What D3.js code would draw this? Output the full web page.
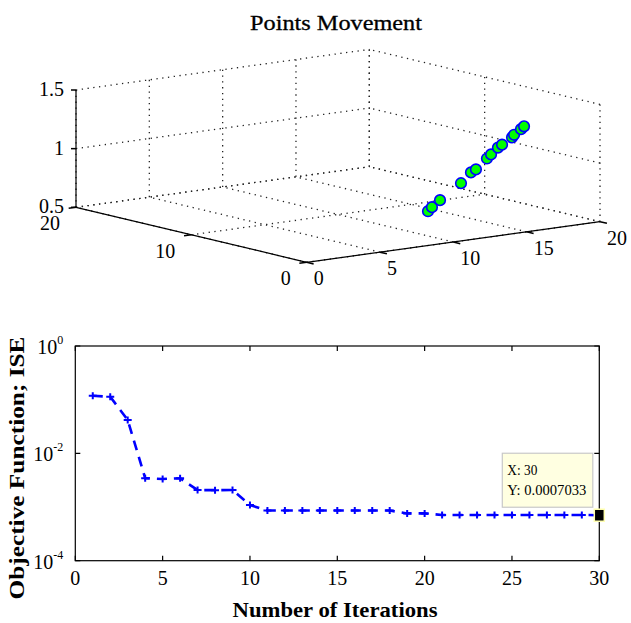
<!DOCTYPE html>
<html>
<head>
<meta charset="utf-8">
<script src="https://cdn.jsdelivr.net/npm/d3@7/dist/d3.min.js"></script>
<style>
	body { margin: 0; background: #fff; }
	text { font-family: "Liberation Serif", "Times New Roman", serif; fill: #000; }
</style>
</head>
<body>
<div id="root"></div>
<script>
// ---- top panel: points movement (3D view) ----
const xTicks3d = [0, 5, 10, 15, 20];
const yTicks3d = [0, 10, 20];
const zTicks3d = [0.5, 1, 1.5];
const zTickLabels = ["0.5", "1", "1.5"];

const pointsX = [12.99, 13.26, 13.81, 15.24, 15.92, 16.26, 17.01, 17.29, 17.76, 18.04, 18.72, 18.86, 19.33, 19.54];
const pointsY = [6, 6, 6, 6, 6, 6, 6, 6, 6, 6, 6, 6, 6, 6];
const pointsZ = [0.57, 0.60, 0.65, 0.77, 0.85, 0.87, 0.95, 0.98, 1.03, 1.05, 1.10, 1.12, 1.16, 1.18];

// ---- bottom panel: objective function ----
const iterations = [1, 2, 3, 4, 5, 6, 7, 8, 9, 10, 11, 12, 13, 14, 15, 16, 17, 18, 19, 20, 21, 22, 23, 24, 25, 26, 27, 28, 29, 30];
const objective = [0.118, 0.113, 0.042, 0.00345, 0.00333, 0.00343, 0.00207, 0.00206, 0.00208, 0.00109,
	0.00086, 0.00086, 0.00086, 0.00086, 0.00086, 0.00086, 0.00086, 0.00086,
	0.00076, 0.00076,
	0.000712, 0.000712, 0.000712, 0.000712, 0.000712, 0.000712, 0.000712, 0.000712, 0.000712,
	0.0007033];
const xTicks2d = [0, 5, 10, 15, 20, 25, 30];
const yTicks2d = [1, 1e-2, 1e-4];
const yTickExp = ["0", "-2", "-4"];

const svg = d3.select("#root")
	.append("svg")
		.attr("width", 631)
		.attr("height", 623);

// ================= 3D panel =================
const origin = [306.7, 262.3];      // x=0, y=0, z=0.5 corner
const xEdge = [293.3, -40.6];       // screen vector of the full x range
const yEdge = [-230.7, -55];        // screen vector of the full y range

const fx = d3.scaleLinear().domain([0, 20]).range([0, 1]);
const fy = d3.scaleLinear().domain([0, 20]).range([0, 1]);
const fz = d3.scaleLinear().domain([0.5, 1.5]).range([0, 117.3]);

const project = (x, y, z) => [
	origin[0] + fx(x) * xEdge[0] + fy(y) * yEdge[0],
	origin[1] + fx(x) * xEdge[1] + fy(y) * yEdge[1] - fz(z)
];

const top3d = svg.append("g");

const gridSegs = [];
// floor
xTicks3d.forEach(x => gridSegs.push([[x, 0, 0.5], [x, 20, 0.5]]));
yTicks3d.forEach(y => gridSegs.push([[0, y, 0.5], [20, y, 0.5]]));
// back wall y = 20
xTicks3d.forEach(x => gridSegs.push([[x, 20, 0.5], [x, 20, 1.5]]));
zTicks3d.forEach(z => gridSegs.push([[0, 20, z], [20, 20, z]]));
// back wall x = 20
yTicks3d.forEach(y => gridSegs.push([[20, y, 0.5], [20, y, 1.5]]));
zTicks3d.forEach(z => gridSegs.push([[20, 0, z], [20, 20, z]]));

top3d.selectAll(".grid3d")
	.data(gridSegs)
	.enter()
	.append("line")
		.attr("class", "grid3d")
		.attr("x1", d => project(...d[0])[0])
		.attr("y1", d => project(...d[0])[1])
		.attr("x2", d => project(...d[1])[0])
		.attr("y2", d => project(...d[1])[1])
		.attr("stroke", "#222")
		.attr("stroke-width", 1.3)
		.attr("stroke-dasharray", "1.3,4.5");

// solid axes
const axisSegs = [
	[[0, 20, 0.5], [0, 20, 1.5]],
	[[0, 20, 0.5], [0, 0, 0.5]],
	[[0, 0, 0.5], [20, 0, 0.5]]
];
top3d.selectAll(".axis3d")
	.data(axisSegs)
	.enter()
	.append("line")
		.attr("x1", d => project(...d[0])[0])
		.attr("y1", d => project(...d[0])[1])
		.attr("x2", d => project(...d[1])[0])
		.attr("y2", d => project(...d[1])[1])
		.attr("stroke", "#000")
		.attr("stroke-width", 1.2);

// ticks
const tickSegs = [];
zTicks3d.forEach(z => {
	const p = project(0, 20, z);
	tickSegs.push([p, [p[0] - 5, p[1]]]);
});
yTicks3d.forEach(y => {
	tickSegs.push([project(0, y, 0.5), project(-0.5, y, 0.5)]);
});
xTicks3d.forEach(x => {
	tickSegs.push([project(x, 0, 0.5), project(x, -0.6, 0.5)]);
});
top3d.selectAll(".tick3d")
	.data(tickSegs)
	.enter()
	.append("line")
		.attr("x1", d => d[0][0])
		.attr("y1", d => d[0][1])
		.attr("x2", d => d[1][0])
		.attr("y2", d => d[1][1])
		.attr("stroke", "#000")
		.attr("stroke-width", 1.5);

// tick labels
top3d.selectAll(".zlab")
	.data(zTicks3d)
	.enter()
	.append("text")
		.attr("x", d => project(0, 20, d)[0] - 12)
		.attr("y", d => project(0, 20, d)[1] + 6)
		.attr("text-anchor", "end")
		.attr("font-size", 20)
		.text((d, i) => zTickLabels[i]);

top3d.selectAll(".ylab")
	.data(yTicks3d)
	.enter()
	.append("text")
		.attr("x", d => project(0, d, 0.5)[0] - 16)
		.attr("y", d => project(0, d, 0.5)[1] + 23)
		.attr("text-anchor", "end")
		.attr("font-size", 20)
		.text(d => d);

top3d.selectAll(".xlab")
	.data(xTicks3d)
	.enter()
	.append("text")
		.attr("x", d => project(d, 0, 0.5)[0] + 7)
		.attr("y", d => project(d, 0, 0.5)[1] + 23)
		.attr("text-anchor", "start")
		.attr("font-size", 20)
		.text(d => d);

// points
top3d.selectAll(".pt")
	.data(pointsX.map((x, i) => project(x, pointsY[i], pointsZ[i])))
	.enter()
	.append("circle")
		.attr("cx", d => d[0])
		.attr("cy", d => d[1])
		.attr("r", 5.3)
		.attr("fill", "#00ff00")
		.attr("stroke", "#0000ff")
		.attr("stroke-width", 1.6);

svg.append("text")
	.attr("x", 336)
	.attr("y", 30)
	.attr("text-anchor", "middle")
	.attr("font-size", 21)
	.attr("textLength", 172)
	.attr("lengthAdjust", "spacingAndGlyphs")
	.attr("stroke", "#000")
	.attr("stroke-width", 0.3)
	.text("Points Movement");

// ================= 2D panel =================
const box = { left: 75.3, right: 599.3, top: 346, bottom: 560.7 };

const x = d3.scaleLinear().domain([0, 30]).range([box.left, box.right]);
const y = d3.scaleLog().domain([1e-4, 1]).range([box.bottom, box.top]);

const plot = svg.append("g");

plot.append("rect")
	.attr("x", box.left)
	.attr("y", box.top)
	.attr("width", box.right - box.left)
	.attr("height", box.bottom - box.top)
	.attr("fill", "none")
	.attr("stroke", "#000")
	.attr("stroke-width", 1.2);

// inward ticks on all four sides
plot.selectAll(".xtb")
	.data(xTicks2d)
	.enter()
	.append("path")
		.attr("d", d => `M${x(d)},${box.bottom}v-5M${x(d)},${box.top}v5`)
		.attr("stroke", "#000")
		.attr("stroke-width", 1.2);

plot.selectAll(".ytb")
	.data(yTicks2d)
	.enter()
	.append("path")
		.attr("d", d => `M${box.left},${y(d)}h5M${box.right},${y(d)}h-5`)
		.attr("stroke", "#000")
		.attr("stroke-width", 1.2);

plot.selectAll(".xtl")
	.data(xTicks2d)
	.enter()
	.append("text")
		.attr("x", d => x(d))
		.attr("y", box.bottom + 24)
		.attr("text-anchor", "middle")
		.attr("font-size", 20)
		.text(d => d);

const ylab = plot.selectAll(".ytl")
	.data(yTicks2d)
	.enter()
	.append("text")
		.attr("x", box.left - 12)
		.attr("y", d => y(d) + 8)
		.attr("text-anchor", "end")
		.attr("font-size", 20);
ylab.append("tspan").text("10");
ylab.append("tspan")
	.attr("dy", -10)
	.attr("font-size", 12)
	.text((d, i) => yTickExp[i]);

// dashed line with + markers
const line = d3.line()
	.x((d, i) => x(iterations[i]))
	.y(d => y(d));

plot.append("path")
	.datum(objective)
	.attr("d", line)
	.attr("fill", "none")
	.attr("stroke", "#0000ff")
	.attr("stroke-width", 2.6)
	.attr("stroke-dasharray", "10,7");

plot.selectAll(".mk")
	.data(objective)
	.enter()
	.append("path")
		.attr("d", (d, i) => `M${x(iterations[i]) - 4},${y(d)}h8M${x(iterations[i])},${y(d) - 3.5}v7`)
		.attr("stroke", "#0000ff")
		.attr("stroke-width", 2);

// data tip on the last point
const lastIdx = objective.length - 1;
const tipX = x(iterations[lastIdx]);
const tipY = y(objective[lastIdx]);

plot.append("rect")
	.attr("x", tipX - 97)
	.attr("y", tipY - 62)
	.attr("width", 90.5)
	.attr("height", 54)
	.attr("fill", "#ffffe1")
	.attr("stroke", "#c8c8c8")
	.attr("stroke-width", 1.2);

plot.append("text")
	.attr("x", tipX - 92)
	.attr("y", tipY - 40)
	.attr("font-family", "'Liberation Sans', Arial, sans-serif")
	.attr("font-size", 14)
	.attr("textLength", 30)
	.attr("lengthAdjust", "spacingAndGlyphs")
	.text(`X: ${iterations[lastIdx]}`);

plot.append("text")
	.attr("x", tipX - 92)
	.attr("y", tipY - 20)
	.attr("font-family", "'Liberation Sans', Arial, sans-serif")
	.attr("font-size", 14)
	.attr("textLength", 79)
	.attr("lengthAdjust", "spacingAndGlyphs")
	.text(`Y: ${objective[lastIdx]}`);

plot.append("rect")
	.attr("x", tipX - 5)
	.attr("y", tipY - 6)
	.attr("width", 10)
	.attr("height", 12)
	.attr("fill", "#000")
	.attr("stroke", "#ffffb0")
	.attr("stroke-width", 1.5);

// axis titles
svg.append("text")
	.attr("x", 335)
	.attr("y", 617)
	.attr("text-anchor", "middle")
	.attr("font-size", 21)
	.attr("font-weight", "bold")
	.attr("textLength", 205)
	.attr("lengthAdjust", "spacingAndGlyphs")
	.text("Number of Iterations");

svg.append("text")
	.attr("transform", "translate(24,468) rotate(-90)")
	.attr("text-anchor", "middle")
	.attr("font-size", 20)
	.attr("font-weight", "bold")
	.attr("textLength", 263)
	.attr("lengthAdjust", "spacingAndGlyphs")
	.text("Objective Function; ISE");
</script>
</body>
</html>
